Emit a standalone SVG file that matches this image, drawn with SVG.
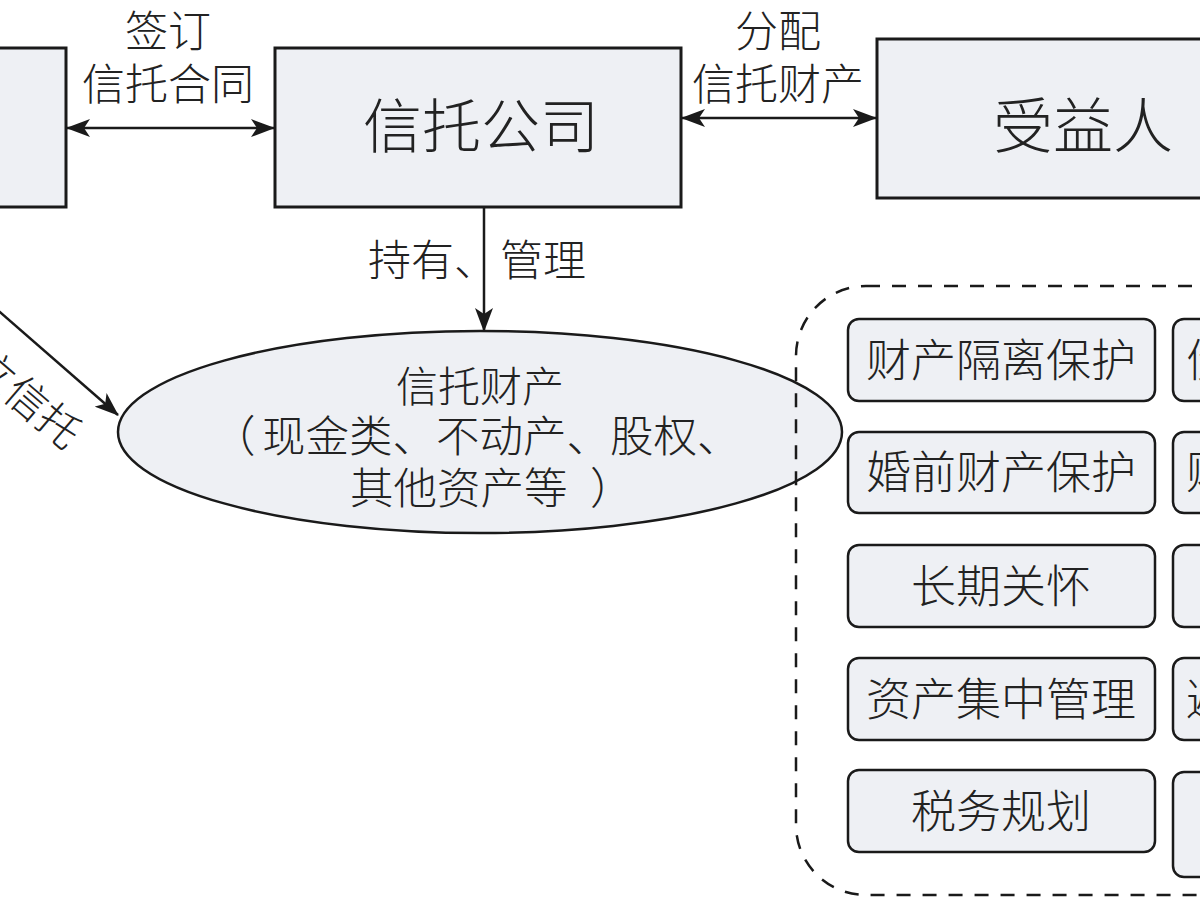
<svg xmlns="http://www.w3.org/2000/svg" width="1200" height="900" viewBox="0 0 1200 900">
<style>
.box{fill:#eef0f4;stroke:#1a1a1a;stroke-width:3}
.item{fill:#eef0f4;stroke:#1a1a1a;stroke-width:2.5}
.t{font-family:"Noto Sans CJK SC","Noto Sans CJK JP",sans-serif;fill:#222;font-weight:300}
.conn{stroke:#1a1a1a;stroke-width:2.5;fill:none}
</style>
<defs>
<marker id="ah" viewBox="0 0 24 18" refX="23" refY="9" markerWidth="24" markerHeight="18" markerUnits="userSpaceOnUse" orient="auto-start-reverse">
<path d="M0,0 L24,9 L0,18 L6,9 Z" fill="#1a1a1a"/>
</marker>
</defs>
<rect width="1200" height="900" fill="#ffffff"/>

<g id="settlor">
<rect class="box" x="-340" y="48" width="406" height="159"/>
</g>

<g id="trust-company">
<rect class="box" x="275" y="48" width="406" height="159"/>
<text class="t" x="481" y="148" font-size="59" text-anchor="middle">信托公司</text>
</g>

<g id="beneficiary">
<rect class="box" x="877" y="39" width="412" height="159"/>
<text class="t" x="1083" y="148" font-size="60" text-anchor="middle">受益人</text>
</g>

<g id="trust-property">
<ellipse cx="480" cy="432" rx="362" ry="101" fill="#eef0f4" stroke="#1a1a1a" stroke-width="2.5"/>
<text class="t" x="480" y="402" font-size="42" text-anchor="middle">信托财产</text>
<text class="t" y="452" font-size="43.5"><tspan x="212">（</tspan><tspan x="262">现金类、不动产、股权、</tspan></text>
<text class="t" y="504" font-size="43.5"><tspan x="350">其他资产等</tspan><tspan x="590">）</tspan></text>
</g>

<g id="functions">
<rect x="796" y="286" width="520" height="609" rx="70" ry="70" fill="none" stroke="#1a1a1a" stroke-width="2.5" stroke-dasharray="14 12"/>
<g id="f1"><rect class="item" x="848" y="319" width="307" height="82" rx="11"/><text class="t" x="1001" y="377" font-size="45" text-anchor="middle">财产隔离保护</text></g>
<g id="f2"><rect class="item" x="848" y="432" width="307" height="81" rx="11"/><text class="t" x="1001" y="489" font-size="45" text-anchor="middle">婚前财产保护</text></g>
<g id="f3"><rect class="item" x="848" y="545" width="307" height="82" rx="11"/><text class="t" x="1001" y="603" font-size="45" text-anchor="middle">长期关怀</text></g>
<g id="f4"><rect class="item" x="848" y="658" width="307" height="82" rx="11"/><text class="t" x="1001" y="716" font-size="45" text-anchor="middle">资产集中管理</text></g>
<g id="f5"><rect class="item" x="848" y="770" width="307" height="82" rx="11"/><text class="t" x="1001" y="828" font-size="45" text-anchor="middle">税务规划</text></g>
<g id="g1"><rect class="item" x="1173" y="319" width="307" height="82" rx="11"/><text class="t" x="1186" y="377" font-size="45">债</text></g>
<g id="g2"><rect class="item" x="1173" y="432" width="307" height="81" rx="11"/><text class="t" x="1186" y="489" font-size="45">财</text></g>
<g id="g3"><rect class="item" x="1173" y="545" width="307" height="82" rx="11"/></g>
<g id="g4"><rect class="item" x="1173" y="658" width="307" height="82" rx="11"/><text class="t" x="1186" y="716" font-size="45">避</text></g>
<g id="g5"><rect class="item" x="1173" y="772" width="307" height="105" rx="11"/></g>
</g>

<g id="connectors">
<line class="conn" x1="67" y1="128" x2="274" y2="128" marker-start="url(#ah)" marker-end="url(#ah)"/>
<line class="conn" x1="682" y1="118" x2="876" y2="118" marker-start="url(#ah)" marker-end="url(#ah)"/>
<line class="conn" x1="484" y1="207" x2="484" y2="331" marker-end="url(#ah)"/>
<line class="conn" x1="-100" y1="225" x2="118" y2="415" marker-end="url(#ah)"/>
<text class="t" x="168" y="47" font-size="43" text-anchor="middle">签订</text>
<text class="t" x="168" y="100" font-size="43" text-anchor="middle">信托合同</text>
<text class="t" x="778" y="47" font-size="43" text-anchor="middle">分配</text>
<text class="t" x="778" y="100" font-size="43" text-anchor="middle">信托财产</text>
<text class="t" x="368" y="276" font-size="43">持有、</text>
<text class="t" x="500" y="276" font-size="43">管理</text>
<text class="t" transform="translate(11,385) rotate(40.5)" x="0" y="15" font-size="42" text-anchor="middle">设立信托</text>
</g>
</svg>
